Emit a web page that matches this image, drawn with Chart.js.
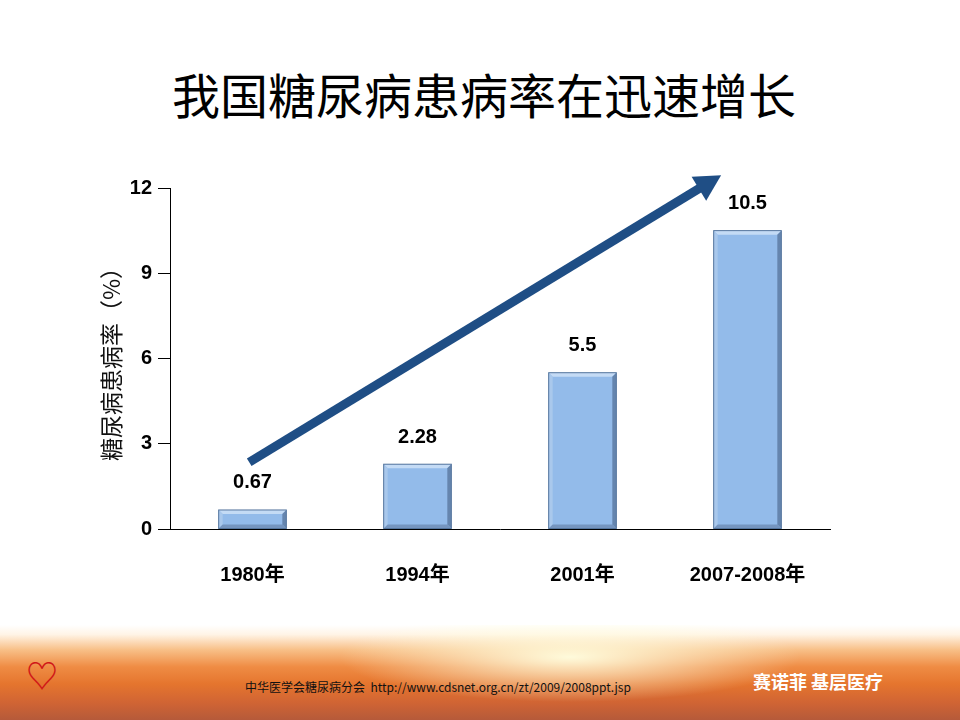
<!DOCTYPE html>
<html>
<head>
<meta charset="utf-8">
<script src="https://cdn.jsdelivr.net/npm/chart.js@4"></script>
<style>
  body { margin: 0; width: 960px; height: 720px; background: #fff; position: relative; overflow: hidden; font-family: "Liberation Sans", Arial, sans-serif; }
  #title { position: absolute; top: 58px; left: 0; width: 968px; text-align: center; font: 48px "Noto Sans CJK SC", sans-serif; color: #000; }
  #box { position: absolute; left: 90px; top: 170px; width: 760px; height: 419px; }
  #footer { position: absolute; left: 0; top: 625px; width: 960px; height: 95px;
    background:
      radial-gradient(ellipse 230px 45px at 570px 32px, rgba(255,255,225,0.95), rgba(255,240,170,0) 100%),
      linear-gradient(to bottom, #ffffff 0%, #fff4e6 10%, #f8c088 26%, #ef8c44 44%, #e5752e 62%, #d06434 82%, #b55a3a 100%); }
  #footer .src { position: absolute; left: 245px; top: 53px; font: 12px "Noto Sans CJK SC", sans-serif; color: #111; }
  #footer .brand { position: absolute; left: 753px; top: 43px; font: bold 18px "Noto Sans CJK SC", sans-serif; color: #fff; }
  #footer .logo { position: absolute; left: 26px; top: 26px; font: bold 32px "Noto Sans CJK SC", sans-serif; color: #d01818; }
</style>
</head>
<body>
<div id="title">我国糖尿病患病率在迅速增长</div>
<div id="box"><canvas id="rateChart"></canvas></div>
<div id="footer">
  <div class="logo">♡</div>
  <div class="src">中华医学会糖尿病分会&nbsp;&nbsp;http://www.cdsnet.org.cn/zt/2009/2008ppt.jsp</div>
  <div class="brand">赛诺菲 基层医疗</div>
</div>
<script>
const years = ['1980年', '1994年', '2001年', '2007-2008年'];
const rates = [0.67, 2.28, 5.5, 10.5];
const yTicks = [0, 3, 6, 9, 12];
// trend arrow, in (category index, value) units
const arrowFrom = [-0.02, 2.35];
const arrowTo = [2.84, 12.45];

// bevel look on each bar
const bevel = {
  id: 'bevel',
  afterDatasetsDraw(chart) {
    const c = chart.ctx;
    chart.getDatasetMeta(0).data.forEach(bar => {
      const l = bar.x - bar.width / 2, r = bar.x + bar.width / 2;
      const t = bar.y, b = bar.base, e = 4;
      c.save();
      c.fillStyle = '#c4dbf5';
      c.beginPath(); c.moveTo(l, t); c.lineTo(r, t); c.lineTo(r - e, t + e); c.lineTo(l + e, t + e); c.fill();
      c.fillStyle = '#a9c8ec';
      c.beginPath(); c.moveTo(l, t); c.lineTo(l + e, t + e); c.lineTo(l + e, b - e); c.lineTo(l, b); c.fill();
      c.fillStyle = '#6585ae';
      c.beginPath(); c.moveTo(r, t); c.lineTo(r, b); c.lineTo(r - e, b - e); c.lineTo(r - e, t + e); c.fill();
      c.fillStyle = '#7595bf';
      c.beginPath(); c.moveTo(l, b); c.lineTo(r, b); c.lineTo(r - e, b - e); c.lineTo(l + e, b - e); c.fill();
      c.strokeStyle = '#56769e'; c.lineWidth = 1;
      c.strokeRect(l, t, r - l, b - t);
      c.restore();
    });
  }
};

const valueLabels = {
  id: 'valueLabels',
  afterDatasetsDraw(chart) {
    const c = chart.ctx;
    c.save();
    c.font = 'bold 20px "Liberation Sans", Arial';
    c.fillStyle = '#000';
    c.textAlign = 'center';
    c.textBaseline = 'middle';
    chart.getDatasetMeta(0).data.forEach((bar, i) => {
      c.fillText(String(rates[i]), bar.x, bar.y - 27);
    });
    c.restore();
  }
};

const trendArrow = {
  id: 'trendArrow',
  afterDraw(chart) {
    const c = chart.ctx, xs = chart.scales.x, ys = chart.scales.y;
    const x1 = xs.getPixelForValue(arrowFrom[0]), y1 = ys.getPixelForValue(arrowFrom[1]);
    const x2 = xs.getPixelForValue(arrowTo[0]), y2 = ys.getPixelForValue(arrowTo[1]);
    const ang = Math.atan2(y2 - y1, x2 - x1);
    const head = 26, half = 14;
    const bx = x2 - head * Math.cos(ang), by = y2 - head * Math.sin(ang);
    c.save();
    c.strokeStyle = '#1f4e85';
    c.fillStyle = '#1f4e85';
    c.lineWidth = 9;
    c.beginPath(); c.moveTo(x1, y1); c.lineTo(bx + 2 * Math.cos(ang), by + 2 * Math.sin(ang)); c.stroke();
    c.beginPath();
    c.moveTo(x2, y2);
    c.lineTo(bx + half * Math.sin(ang), by - half * Math.cos(ang));
    c.lineTo(bx - half * Math.sin(ang), by + half * Math.cos(ang));
    c.closePath(); c.fill();
    c.restore();
  }
};

const ctx = document.getElementById('rateChart').getContext('2d');

new Chart(ctx, {
  type: 'bar',
  data: {
    labels: years,
    datasets: [{
      data: rates,
      backgroundColor: '#93bbea',
      borderWidth: 0,
      barPercentage: 0.41,
      categoryPercentage: 1
    }]
  },
  options: {
    responsive: true,
    maintainAspectRatio: false,
    animation: false,
    layout: { padding: { top: 16, right: 20 } },
    plugins: { legend: { display: false }, tooltip: { enabled: false } },
    scales: {
      y: {
        min: 0,
        max: 12,
        afterBuildTicks: s => { s.ticks = yTicks.map(v => ({ value: v })); },
        afterFit: s => { s.width = 80; },
        grid: { drawOnChartArea: false, drawTicks: true, tickLength: 12, color: '#000' },
        border: { color: '#000', width: 1 },
        ticks: { padding: 6, color: '#000', font: { family: '"Liberation Sans", Arial', size: 20, weight: 'bold' } },
        title: {
          display: true,
          text: '糖尿病患病率（%）',
          color: '#111',
          padding: { top: 7, bottom: 0 },
          font: { family: '"Noto Sans CJK SC"', size: 23 }
        }
      },
      x: {
        afterFit: s => { s.height = 60; },
        grid: { display: false },
        border: { display: true, color: '#000', width: 1 },
        ticks: { padding: 26, color: '#000', font: { family: '"Liberation Sans", "Noto Sans CJK SC", Arial', size: 20, weight: 'bold' } }
      }
    }
  },
  plugins: [bevel, valueLabels, trendArrow]
});
</script>
</body>
</html>
